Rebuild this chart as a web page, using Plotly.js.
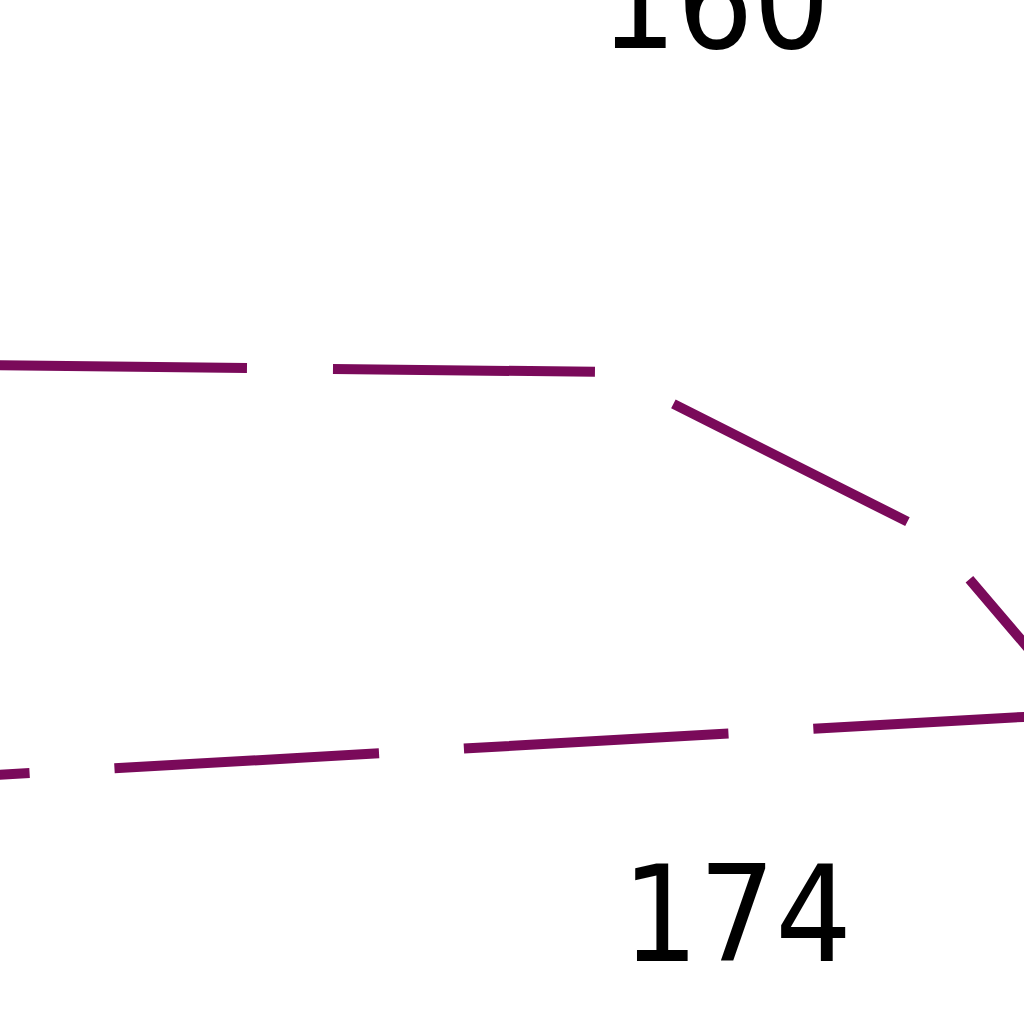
<!DOCTYPE html>
<html>
<head>
<meta charset="utf-8">
<script src="https://cdn.plot.ly/plotly-3.0.1.min.js"></script>
<style>html,body{margin:0;padding:0;background:#fff;}#chart{width:1024px;height:1024px;}</style>
</head>
<body>
<div id="chart"></div>
<script>
// Values (zoomed-in view of two series)
const upperX = [-15, 610, 930, 1040];
const upperY = [365, 372, 533, 662];
const lowerX = [-235, 1040];
const lowerY = [788, 716];
const labels = ["160", "174"];

const color = "rgb(122,10,90)";
const traces = [
  {x: upperX, y: upperY, mode: "lines", line: {color: color, width: 10, dash: "262px,86px"}, hoverinfo: "skip"},
  {x: lowerX, y: lowerY, mode: "lines", line: {color: color, width: 10, dash: "265px,85px"}, hoverinfo: "skip"}
];
const font = {family: "'Liberation Sans Narrow', 'DejaVu Sans Condensed', 'DejaVu Sans'", size: 134, color: "#000"};
const layout = {
  width: 1024, height: 1024,
  margin: {l: 0, r: 0, t: 0, b: 0},
  paper_bgcolor: "#fff", plot_bgcolor: "#fff",
  showlegend: false,
  xaxis: {range: [0, 1024], visible: false, fixedrange: true},
  yaxis: {range: [1024, 0], visible: false, fixedrange: true},
  annotations: [
    {text: labels[0], x: 715, y: 2, xref: "x", yref: "y", showarrow: false, font: font},
    {text: labels[1], x: 737, y: 915, xref: "x", yref: "y", showarrow: false, font: font}
  ]
};
Plotly.newPlot("chart", traces, layout, {displayModeBar: false, staticPlot: true});
</script>
</body>
</html>
